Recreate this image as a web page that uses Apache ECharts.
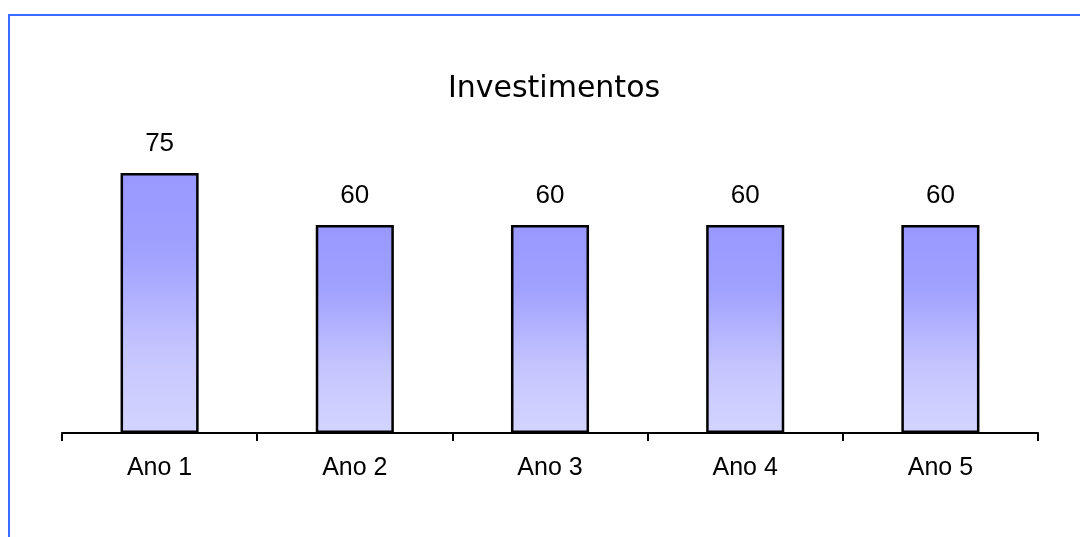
<!DOCTYPE html>
<html>
<head>
<meta charset="utf-8">
<script src="https://cdn.jsdelivr.net/npm/echarts@6/dist/echarts.min.js"></script>
<style>
  html, body { margin: 0; padding: 0; background: #fff; }
  #chart { width: 1080px; height: 537px; }
</style>
</head>
<body>
<div id="chart"></div>
<script>
// Investment per year
const categories = ['Ano 1', 'Ano 2', 'Ano 3', 'Ano 4', 'Ano 5'];
const investimentos = [75, 60, 60, 60, 60];
const chartTitle = 'Investimentos';

const chart = echarts.init(document.getElementById('chart'));

chart.setOption({
  animation: false,
  backgroundColor: '#ffffff',
  title: {
    text: chartTitle,
    left: 549,
    textAlign: 'center',
    top: 69,
    textStyle: {
      fontFamily: '"Comic Sans MS", "DejaVu Sans", sans-serif',
      fontSize: 30,
      fontWeight: 'normal',
      color: '#000'
    }
  },
  graphic: [{
    type: 'polyline',
    shape: { points: [[9, 537], [9, 15], [1080, 15]] },
    style: { stroke: '#3f6bff', lineWidth: 2, fill: null },
    silent: true
  }],
  grid: { left: 62, right: 42, top: 155.7, bottom: 104, containLabel: false },
  xAxis: {
    type: 'category',
    data: categories,
    boundaryGap: true,
    axisLine: { show: true, lineStyle: { color: '#000', width: 2 } },
    axisTick: { show: true, length: 8, lineStyle: { color: '#000', width: 2 } },
    axisLabel: {
      margin: 23,
      fontFamily: '"Liberation Sans", Arial, sans-serif',
      fontSize: 25,
      color: '#000'
    }
  },
  yAxis: {
    type: 'value',
    min: 0,
    max: 80,
    show: false,
    splitLine: { show: false }
  },
  series: [{
    type: 'bar',
    data: investimentos,
    barWidth: '40%',
    itemStyle: {
      borderColor: '#000',
      borderWidth: 2.5,
      color: new echarts.graphic.LinearGradient(0, 0, 0, 1, [
        { offset: 0, color: '#9898ff' },
        { offset: 0.3, color: '#a0a0ff' },
        { offset: 0.7, color: '#c6c6ff' },
        { offset: 1, color: '#d4d4ff' }
      ])
    },
    label: {
      show: true,
      position: 'top',
      distance: 16,
      fontFamily: '"Liberation Sans", Arial, sans-serif',
      fontSize: 26,
      color: '#000'
    }
  }]
});
</script>
</body>
</html>
